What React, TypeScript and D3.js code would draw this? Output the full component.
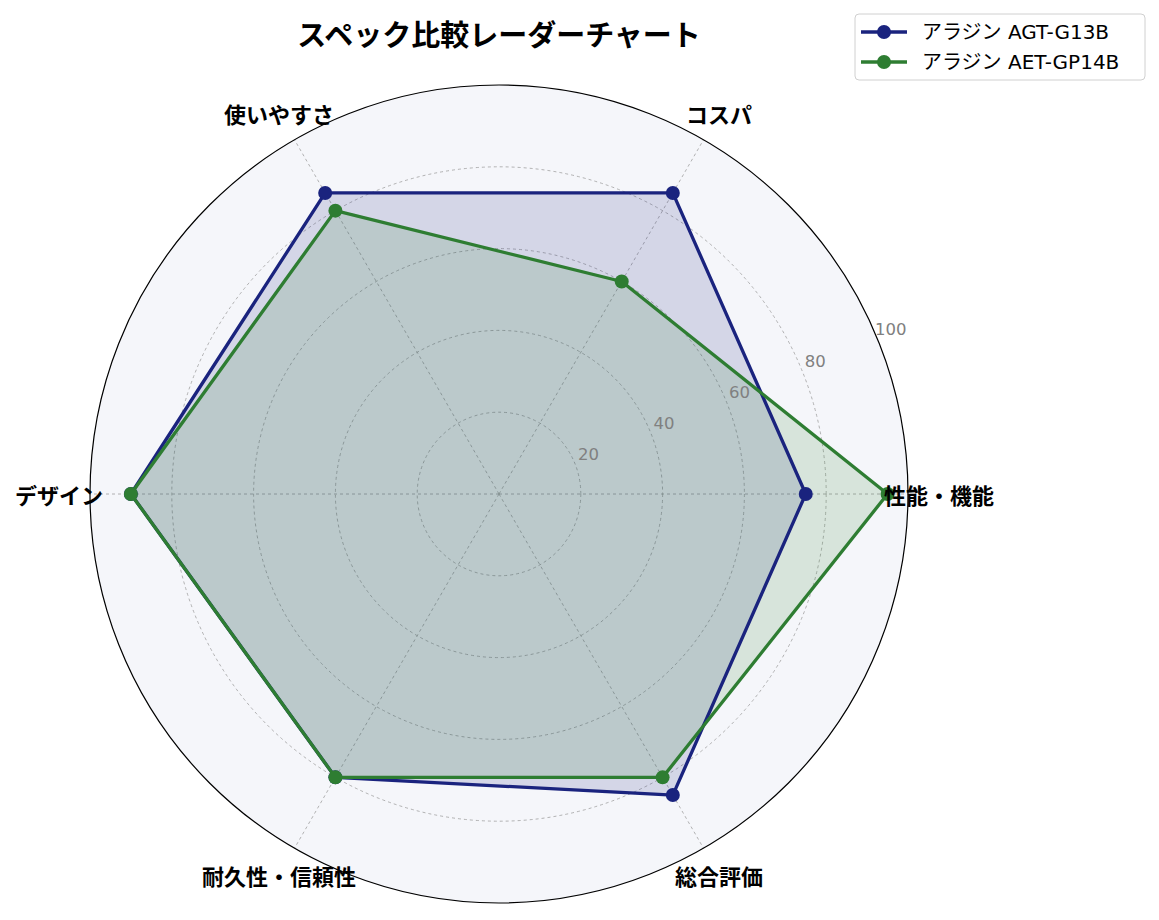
import React from "react";
import * as d3 from "d3";

const categories = ["性能・機能", "コスパ", "使いやすさ", "デザイン", "耐久性・信頼性", "総合評価"];
const seriesNames = ["アラジン AGT-G13B", "アラジン AET-GP14B"];
const seriesA = [75, 85, 85, 90, 80, 85];
const seriesB = [95, 60, 80, 90, 80, 80];
const seriesColors = ["#1a237e", "#2e7d32"];
const rTicks = [20, 40, 60, 80, 100];
const title = "スペック比較レーダーチャート";

const W = 1159;
const H = 920;
const cx = 499;
const cy = 494;
const R = 409;
const FONT = "'Noto Sans CJK JP', 'Noto Sans', sans-serif";
const LATIN = "'DejaVu Sans', 'Noto Sans CJK JP', sans-serif";

export default function App() {
  const r = d3.scaleLinear().domain([0, 100]).range([0, R]);
  const n = categories.length;
  const angle = (i: number) => (i / n) * 2 * Math.PI; // counter-clockwise from east
  const pt = (i: number, v: number): [number, number] => [
    cx + r(v) * Math.cos(angle(i)),
    cy - r(v) * Math.sin(angle(i)),
  ];
  const line = d3.line<number>()
    .x((v, i) => pt(i, v)[0])
    .y((v, i) => pt(i, v)[1])
    .curve(d3.curveLinearClosed);
  const allSeries = [seriesA, seriesB];
  const labelAngle = (22.5 * Math.PI) / 180;

  return (
    <svg width={W} height={H} style={{ position: "absolute", left: 0, top: 0 }} fontFamily={FONT}>
      <rect width={W} height={H} fill="#ffffff" />
      <circle cx={cx} cy={cy} r={R} fill="#f5f6fa" />
      {rTicks.slice(0, -1).map((t) => (
        <circle key={t} cx={cx} cy={cy} r={r(t)} fill="none" stroke="#a0a0a0" strokeWidth={0.8} strokeDasharray="3,3" />
      ))}
      {categories.map((c, i) => {
        const [x, y] = pt(i, 100);
        return <line key={c} x1={cx} y1={cy} x2={x} y2={y} stroke="#a0a0a0" strokeWidth={0.8} strokeDasharray="3,3" />;
      })}
      {allSeries.map((s, k) => (
        <path key={"f" + k} d={line(s) || ""} fill={seriesColors[k]} fillOpacity={0.15} stroke="none" />
      ))}
      {allSeries.map((s, k) => (
        <g key={"s" + k}>
          <path d={line(s) || ""} fill="none" stroke={seriesColors[k]} strokeWidth={3.3} strokeLinejoin="round" />
          {s.map((v, i) => {
            const [x, y] = pt(i, v);
            return <circle key={i} cx={x} cy={y} r={7} fill={seriesColors[k]} />;
          })}
        </g>
      ))}
      <circle cx={cx} cy={cy} r={R} fill="none" stroke="#000" strokeWidth={1.2} />
      {rTicks.map((t) => {
        const rr = r(t) + 15;
        return (
          <text key={t} x={cx + rr * Math.cos(labelAngle)} y={cy - rr * Math.sin(labelAngle) - 2} fill="#808080" fontSize={16.5}
            fontFamily={LATIN} textAnchor="middle" dominantBaseline="central">
            {t}
          </text>
        );
      })}
      {categories.map((c, i) => {
        const rr = R + 31;
        return (
          <text key={c} x={cx + rr * Math.cos(angle(i))} y={cy - rr * Math.sin(angle(i))} fontSize={22} fontWeight="bold"
            textAnchor="middle" dominantBaseline="central" fill="#000">
            {c}
          </text>
        );
      })}
      <text x={499} y={33} fontSize={29} fontWeight="bold" textAnchor="middle" dominantBaseline="central" fill="#000">
        {title}
      </text>
      <g>
        <rect x={855} y={14} width={290} height={66} rx={4} fill="#fff" stroke="#d0d0d0" strokeWidth={1} />
        {seriesNames.map((nm, k) => {
          const y = 32 + k * 30;
          return (
            <g key={nm}>
              <line x1={861} x2={907} y1={y} y2={y} stroke={seriesColors[k]} strokeWidth={3.3} />
              <circle cx={884} cy={y} r={7} fill={seriesColors[k]} />
              <text x={922} y={y} fontSize={20} fontFamily={LATIN} dominantBaseline="central" fill="#000">{nm}</text>
            </g>
          );
        })}
      </g>
    </svg>
  );
}
